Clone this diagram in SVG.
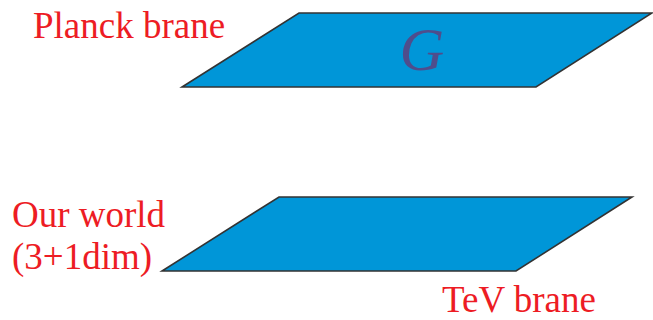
<svg xmlns="http://www.w3.org/2000/svg" width="653" height="320" viewBox="0 0 653 320">
<style>
.lbl{font-family:"Liberation Serif","Times New Roman",serif;font-size:37px;fill:#ED1C24}
.brane{fill:#0096D8;stroke:#333;stroke-width:1.6;stroke-linejoin:miter}
</style>
<rect width="653" height="320" fill="#fff"/>
<g id="planck">
<polygon class="brane" points="299,13 652,13 536,87 182,87"/>
<text x="422" y="70" text-anchor="middle" font-family="Liberation Serif,serif" font-style="italic" font-size="62" fill="#4F4D8C">G</text>
</g>
<g id="tev">
<polygon class="brane" points="279,197 632,197 516,271 162,271"/>
</g>
<g id="labels">
<text class="lbl" x="33" y="38">Planck brane</text>
<text class="lbl" x="12" y="227">Our world</text>
<text class="lbl" x="12" y="269">(3+1dim)</text>
<text class="lbl" x="442" y="312">TeV brane</text>
</g>
<g id="connectors"></g>
</svg>
